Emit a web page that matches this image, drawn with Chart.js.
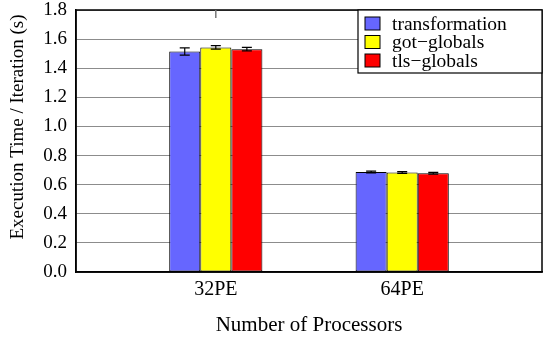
<!DOCTYPE html>
<html>
<head>
<meta charset="utf-8">
<script src="https://cdn.jsdelivr.net/npm/chart.js@4/dist/chart.umd.min.js"></script>
<style>
  html, body { margin: 0; padding: 0; background: #fff; }
  #wrap { width: 545px; height: 337px; }
</style>
</head>
<body>
<div id="wrap"><canvas id="c" width="545" height="337"></canvas></div>
<script>
// Processor configurations (x positions 0, 1 on the axis)
const categories = ['32PE', '64PE'];
const seriesNames = ['transformation', 'got\u2212globals', 'tls\u2212globals'];
const seriesColors = ['#6666ff', '#ffff00', '#ff0000'];

// Mean execution time per iteration (s)
const transformation = [1.515, 0.687];
const gotGlobals = [1.543, 0.683];
const tlsGlobals = [1.531, 0.679];

// Half-range of the error bars (s)
const transformationErr = [0.025, 0.006];
const gotGlobalsErr = [0.012, 0.006];
const tlsGlobalsErr = [0.012, 0.006];

const yTicks = [0.0, 0.2, 0.4, 0.6, 0.8, 1.0, 1.2, 1.4, 1.6, 1.8];

const seriesValues = [transformation, gotGlobals, tlsGlobals];
const seriesErrors = [transformationErr, gotGlobalsErr, tlsGlobalsErr];

const FONT = "'Liberation Serif', 'Times New Roman', serif";

const datasets = seriesNames.map((name, i) => ({
  label: name,
  data: seriesValues[i].map((v, j) => ({ x: j, y: v })),
  errors: seriesErrors[i],
  backgroundColor: seriesColors[i],
  borderColor: '#000',
  borderWidth: 1,
  borderSkipped: false,
  categoryPercentage: 0.5,
  barPercentage: 1.0
}));

// Error bars, frame, mirror ticks, legend box and axis titles
const decorations = {
  id: 'decorations',
  afterDatasetsDraw(chart) {
    const ctx = chart.ctx;
    const y = chart.scales.y;
    ctx.save();
    ctx.strokeStyle = '#000';
    ctx.lineWidth = 1.2;
    chart.data.datasets.forEach((ds, i) => {
      const meta = chart.getDatasetMeta(i);
      meta.data.forEach((bar, j) => {
        const v = ds.data[j].y, e = ds.errors[j];
        const top = y.getPixelForValue(v + e);
        const bot = y.getPixelForValue(v - e);
        const cx = bar.x, cap = 5;
        ctx.beginPath();
        ctx.moveTo(cx, top); ctx.lineTo(cx, bot);
        ctx.moveTo(cx - cap, top); ctx.lineTo(cx + cap, top);
        ctx.moveTo(cx - cap, bot); ctx.lineTo(cx + cap, bot);
        ctx.stroke();
      });
    });
    ctx.restore();
  },
  afterDraw(chart) {
    const ctx = chart.ctx;
    const a = chart.chartArea;
    const x = chart.scales.x;
    ctx.save();
    // frame
    ctx.strokeStyle = '#000';
    ctx.lineWidth = 1.5;
    ctx.strokeRect(a.left, a.top, a.right - a.left, a.bottom - a.top);
    // mirrored x ticks on the top edge
    ctx.strokeStyle = '#777';
    ctx.lineWidth = 1.5;
    categories.forEach((c, j) => {
      const px = x.getPixelForValue(j);
      ctx.beginPath();
      ctx.moveTo(px, a.top); ctx.lineTo(px, a.top + 8);
      ctx.stroke();
    });
    // legend box
    const bx = 358, by = a.top, bw = a.right - 358, bh = 63;
    ctx.fillStyle = '#fff';
    ctx.fillRect(bx, by, bw, bh);
    ctx.strokeStyle = '#000';
    ctx.lineWidth = 1.2;
    ctx.strokeRect(bx, by, bw, bh);
    ctx.font = '19.5px ' + FONT;
    ctx.textBaseline = 'middle';
    ctx.textAlign = 'left';
    chart.data.datasets.forEach((ds, i) => {
      const cy = by + 13.5 + i * 18.5;
      ctx.fillStyle = ds.backgroundColor;
      ctx.fillRect(365, cy - 6.5, 15, 13);
      ctx.strokeStyle = '#000';
      ctx.lineWidth = 1;
      ctx.strokeRect(365, cy - 6.5, 15, 13);
      ctx.fillStyle = '#000';
      ctx.fillText(ds.label, 392, cy + 1);
    });
    // axis titles
    ctx.fillStyle = '#000';
    ctx.textAlign = 'center';
    ctx.textBaseline = 'middle';
    ctx.font = '21px ' + FONT;
    ctx.fillText('Number of Processors', (a.left + a.right) / 2, 325);
    ctx.save();
    ctx.translate(18, 127);
    ctx.rotate(-Math.PI / 2);
    ctx.font = '19px ' + FONT;
    ctx.fillText('Execution Time / Iteration (s)', 0, 0);
    ctx.restore();
    ctx.restore();
  }
};

new Chart(document.getElementById('c'), {
  type: 'bar',
  data: { datasets },
  plugins: [decorations],
  options: {
    responsive: false,
    animation: false,
    devicePixelRatio: 1,
    layout: { padding: { top: 10, right: 3, left: 0, bottom: 0 } },
    plugins: { legend: { display: false }, tooltip: { enabled: false } },
    scales: {
      x: {
        type: 'linear',
        min: -0.75,
        max: 1.75,
        offset: false,
        afterBuildTicks(scale) { scale.ticks = categories.map((c, j) => ({ value: j })); },
        afterFit(scale) { scale.height = 65; scale.paddingLeft = 0; scale.paddingRight = 0; },
        grid: { display: false, drawTicks: false },
        border: { display: true, color: '#000', width: 1.5 },
        ticks: {
          padding: 6,
          color: '#000',
          font: { family: FONT, size: 20 },
          callback: (v) => categories[v] !== undefined ? categories[v] : ''
        }
      },
      y: {
        min: 0,
        max: 1.8,
        z: 1,
        afterBuildTicks(scale) { scale.ticks = yTicks.map(v => ({ value: v })); },
        afterFit(scale) { scale.width = 76; scale.paddingTop = 0; scale.paddingBottom = 0; },
        grid: { color: 'rgba(0,0,0,0.45)', lineWidth: 1, drawTicks: false },
        border: { display: true, color: '#000', width: 1.5 },
        ticks: {
          padding: 9,
          color: '#000',
          font: { family: FONT, size: 19 },
          callback: (v) => Number(v).toFixed(1)
        }
      }
    }
  }
});
</script>
</body>
</html>
